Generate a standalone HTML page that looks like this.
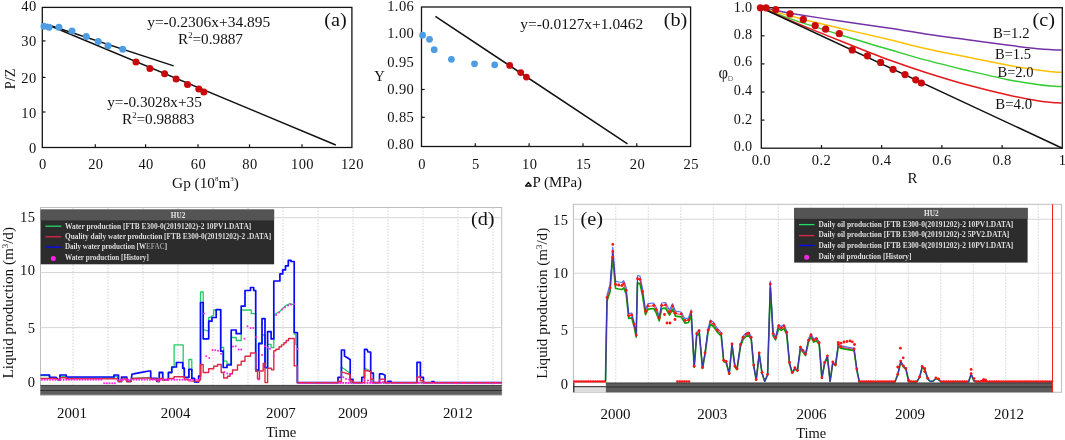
<!DOCTYPE html>
<html><head><meta charset="utf-8"><title>Figure</title>
<style>html,body{margin:0;padding:0;background:#fff;}body{width:1065px;height:440px;overflow:hidden;font-family:"Liberation Serif",serif;}</style></head>
<body>
<svg width="1065" height="440" viewBox="0 0 1065 440" style="display:block;filter:blur(0.35px);font-family:'Liberation Serif',serif">
<rect width="1065" height="440" fill="#fff"/>
<rect x="42.3" y="7.4" width="309.6" height="140.1" fill="none" stroke="#141414" stroke-width="1.3"/>
<text x="36.6" y="10.9" font-size="14.5" text-anchor="end" fill="#111" letter-spacing="0.4">40</text>
<line x1="42.3" y1="40.9" x2="45.5" y2="40.9" stroke="#141414" stroke-width="1.2"/>
<text x="36.6" y="45.5" font-size="14.5" text-anchor="end" fill="#111" letter-spacing="0.4">30</text>
<line x1="42.3" y1="77.4" x2="45.5" y2="77.4" stroke="#141414" stroke-width="1.2"/>
<text x="36.6" y="82.8" font-size="14.5" text-anchor="end" fill="#111" letter-spacing="0.4">20</text>
<line x1="42.3" y1="112.0" x2="45.5" y2="112.0" stroke="#141414" stroke-width="1.2"/>
<text x="36.6" y="118.1" font-size="14.5" text-anchor="end" fill="#111" letter-spacing="0.4">10</text>
<text x="36.6" y="152.7" font-size="14.5" text-anchor="end" fill="#111" letter-spacing="0.4">0</text>
<text x="42.8" y="169.3" font-size="14.5" text-anchor="middle" fill="#111" letter-spacing="0.4">0</text>
<line x1="95.3" y1="147.5" x2="95.3" y2="144.3" stroke="#141414" stroke-width="1.2"/>
<text x="95.8" y="169.3" font-size="14.5" text-anchor="middle" fill="#111" letter-spacing="0.4">20</text>
<line x1="145.6" y1="147.5" x2="145.6" y2="144.3" stroke="#141414" stroke-width="1.2"/>
<text x="146.1" y="169.3" font-size="14.5" text-anchor="middle" fill="#111" letter-spacing="0.4">40</text>
<line x1="198.0" y1="147.5" x2="198.0" y2="144.3" stroke="#141414" stroke-width="1.2"/>
<text x="198.5" y="169.3" font-size="14.5" text-anchor="middle" fill="#111" letter-spacing="0.4">60</text>
<line x1="249.5" y1="147.5" x2="249.5" y2="144.3" stroke="#141414" stroke-width="1.2"/>
<text x="250.0" y="169.3" font-size="14.5" text-anchor="middle" fill="#111" letter-spacing="0.4">80</text>
<line x1="302.0" y1="147.5" x2="302.0" y2="144.3" stroke="#141414" stroke-width="1.2"/>
<text x="302.5" y="169.3" font-size="14.5" text-anchor="middle" fill="#111" letter-spacing="0.4">100</text>
<text x="352.4" y="169.3" font-size="14.5" text-anchor="middle" fill="#111" letter-spacing="0.4">120</text>
<line x1="47" y1="24.5" x2="173.7" y2="65.9" stroke="#111" stroke-width="1.5"/>
<line x1="47" y1="24.5" x2="335.8" y2="145" stroke="#111" stroke-width="1.5"/>
<circle cx="44" cy="26.2" r="3.5" fill="#4E9DE2"/>
<circle cx="49.1" cy="27.2" r="3.5" fill="#4E9DE2"/>
<circle cx="58.9" cy="27.2" r="3.5" fill="#4E9DE2"/>
<circle cx="72" cy="31.1" r="3.5" fill="#4E9DE2"/>
<circle cx="86.3" cy="36.4" r="3.5" fill="#4E9DE2"/>
<circle cx="98.2" cy="41.5" r="3.5" fill="#4E9DE2"/>
<circle cx="108" cy="45.8" r="3.5" fill="#4E9DE2"/>
<circle cx="122.7" cy="49.3" r="3.5" fill="#4E9DE2"/>
<circle cx="136" cy="62.1" r="3.5" fill="#C90A0C"/>
<circle cx="149.9" cy="68.6" r="3.5" fill="#C90A0C"/>
<circle cx="164.6" cy="73.7" r="3.5" fill="#C90A0C"/>
<circle cx="176.1" cy="78.9" r="3.5" fill="#C90A0C"/>
<circle cx="187.5" cy="84.6" r="3.5" fill="#C90A0C"/>
<circle cx="198.8" cy="89.1" r="3.5" fill="#C90A0C"/>
<circle cx="203.9" cy="92.1" r="3.5" fill="#C90A0C"/>
<text x="147.2" y="27.3" font-size="15" text-anchor="start" fill="#111" textLength="123.0" lengthAdjust="spacingAndGlyphs" >y=-0.2306x+34.895</text>
<text x="178.0" y="44.0" font-size="15" text-anchor="start" fill="#111" textLength="65.0" lengthAdjust="spacingAndGlyphs" >R<tspan font-size="8.5" dy="-6">2</tspan><tspan dy="6">=0.9887</tspan></text>
<text x="107.2" y="106.6" font-size="15" text-anchor="start" fill="#111" textLength="94.6" lengthAdjust="spacingAndGlyphs" >y=-0.3028x+35</text>
<text x="122.0" y="123.8" font-size="15" text-anchor="start" fill="#111" textLength="72.5" lengthAdjust="spacingAndGlyphs" >R<tspan font-size="8.5" dy="-6">2</tspan><tspan dy="6">=0.98883</tspan></text>
<text x="324.2" y="26.0" font-size="19.5" text-anchor="start" fill="#111" textLength="22.5" lengthAdjust="spacingAndGlyphs" >(a)</text>
<text x="172.1" y="187.7" font-size="15.5" text-anchor="start" fill="#111" textLength="66.8" lengthAdjust="spacingAndGlyphs" >Gp (10<tspan font-size="7" dy="-6.5">8</tspan><tspan dy="6.5">m</tspan><tspan font-size="7" dy="-6.5">3</tspan><tspan dy="6.5">)</tspan></text>
<text transform="translate(15.3,78.9) rotate(-90)" font-size="14.5" text-anchor="middle" fill="#111" textLength="20.5" lengthAdjust="spacingAndGlyphs">P/Z</text>
<rect x="421.5" y="7.0" width="269.1" height="139.5" fill="none" stroke="#141414" stroke-width="1.3"/>
<text x="414.2" y="10.5" font-size="14.5" text-anchor="end" fill="#111" letter-spacing="0.4">1.06</text>
<text x="414.2" y="37.8" font-size="14.5" text-anchor="end" fill="#111" letter-spacing="0.4">1.00</text>
<text x="414.2" y="66.9" font-size="14.5" text-anchor="end" fill="#111" letter-spacing="0.4">0.95</text>
<text x="414.2" y="94.2" font-size="14.5" text-anchor="end" fill="#111" letter-spacing="0.4">0.90</text>
<text x="414.2" y="121.8" font-size="14.5" text-anchor="end" fill="#111" letter-spacing="0.4">0.85</text>
<text x="414.2" y="149.1" font-size="14.5" text-anchor="end" fill="#111" letter-spacing="0.4">0.80</text>
<line x1="421.5" y1="89.5" x2="424.7" y2="89.5" stroke="#141414" stroke-width="1.2"/>
<line x1="421.5" y1="117.3" x2="424.7" y2="117.3" stroke="#141414" stroke-width="1.2"/>
<text x="422.1" y="168.6" font-size="14.5" text-anchor="middle" fill="#111" letter-spacing="0.4">0</text>
<line x1="475.3" y1="146.5" x2="475.3" y2="143.3" stroke="#141414" stroke-width="1.2"/>
<text x="475.9" y="168.6" font-size="14.5" text-anchor="middle" fill="#111" letter-spacing="0.4">5</text>
<line x1="529.1" y1="146.5" x2="529.1" y2="143.3" stroke="#141414" stroke-width="1.2"/>
<text x="529.7" y="168.6" font-size="14.5" text-anchor="middle" fill="#111" letter-spacing="0.4">10</text>
<line x1="583.0" y1="146.5" x2="583.0" y2="143.3" stroke="#141414" stroke-width="1.2"/>
<text x="583.6" y="168.6" font-size="14.5" text-anchor="middle" fill="#111" letter-spacing="0.4">15</text>
<line x1="636.8" y1="146.5" x2="636.8" y2="143.3" stroke="#141414" stroke-width="1.2"/>
<text x="637.4" y="168.6" font-size="14.5" text-anchor="middle" fill="#111" letter-spacing="0.4">20</text>
<text x="691.2" y="168.6" font-size="14.5" text-anchor="middle" fill="#111" letter-spacing="0.4">25</text>
<line x1="435.4" y1="16.4" x2="627.5" y2="143.9" stroke="#111" stroke-width="1.5"/>
<circle cx="422.6" cy="35.2" r="3.4" fill="#4E9DE2"/>
<circle cx="429.5" cy="39.3" r="3.4" fill="#4E9DE2"/>
<circle cx="434.2" cy="49.7" r="3.4" fill="#4E9DE2"/>
<circle cx="451.4" cy="59.3" r="3.4" fill="#4E9DE2"/>
<circle cx="474.5" cy="63.8" r="3.4" fill="#4E9DE2"/>
<circle cx="494.7" cy="64.8" r="3.4" fill="#4E9DE2"/>
<circle cx="509.7" cy="65.4" r="3.4" fill="#C90A0C"/>
<circle cx="520.7" cy="72.6" r="3.4" fill="#C90A0C"/>
<circle cx="526.4" cy="77.1" r="3.4" fill="#C90A0C"/>
<text x="520.3" y="28.6" font-size="15" text-anchor="start" fill="#111" textLength="123.0" lengthAdjust="spacingAndGlyphs" >y=-0.0127x+1.0462</text>
<text x="663.7" y="26.0" font-size="19.5" text-anchor="start" fill="#111" textLength="23.5" lengthAdjust="spacingAndGlyphs" >(b)</text>
<text x="374.3" y="80.9" font-size="14.5" text-anchor="start" fill="#111" >Y</text>
<path d="M525.6 186 L528.4 182.4 L531.2 186 Z" fill="none" stroke="#111" stroke-width="1.4" stroke-linejoin="round"/>
<text x="532.5" y="187.0" font-size="15.5" text-anchor="start" fill="#111" textLength="49.5" lengthAdjust="spacingAndGlyphs" >P (MPa)</text>
<path d="M761.3 7.7 C766.1 8.6 776.9 11.0 790.0 13.2 C803.1 15.4 823.3 18.5 840.0 21.0 C856.7 23.5 875.8 26.1 890.0 28.2 C904.2 30.3 912.4 32.0 925.0 33.9 C937.6 35.8 952.2 37.5 965.9 39.4 C979.5 41.2 995.0 43.5 1006.9 45.0 C1018.8 46.5 1030.1 47.9 1037.6 48.7 C1045.1 49.5 1048.3 49.5 1052.0 49.7 C1055.7 49.9 1058.4 49.9 1060.0 49.9 C1061.6 49.9 1061.3 49.9 1061.6 49.9" fill="none" stroke="#7332A6" stroke-width="1.5"/>
<path d="M761.3 7.7 C766.1 9.1 776.9 12.5 790.0 15.9 C803.1 19.3 823.3 24.2 840.0 28.2 C856.7 32.2 875.8 36.4 890.0 39.8 C904.2 43.2 912.4 45.6 925.0 48.4 C937.6 51.2 952.2 54.0 965.9 56.8 C979.5 59.6 995.0 62.8 1006.9 65.0 C1018.8 67.2 1030.1 69.0 1037.6 70.1 C1045.1 71.2 1048.3 71.4 1052.0 71.8 C1055.7 72.2 1058.4 72.1 1060.0 72.2 C1061.6 72.3 1061.3 72.2 1061.6 72.2" fill="none" stroke="#FFC000" stroke-width="1.5"/>
<path d="M761.3 7.7 C766.1 9.5 776.9 14.1 790.0 18.6 C803.1 23.1 823.3 29.5 840.0 34.7 C856.7 39.9 875.8 45.5 890.0 49.7 C904.2 53.9 912.4 56.5 925.0 59.9 C937.6 63.3 952.2 66.8 965.9 70.1 C979.5 73.3 995.0 77.0 1006.9 79.4 C1018.8 81.8 1030.1 83.4 1037.6 84.5 C1045.1 85.6 1048.3 85.8 1052.0 86.1 C1055.7 86.4 1058.4 86.4 1060.0 86.5 C1061.6 86.6 1061.3 86.5 1061.6 86.5" fill="none" stroke="#33CC33" stroke-width="1.5"/>
<path d="M761.3 7.7 C766.1 9.8 776.9 14.9 790.0 20.4 C803.1 25.9 823.3 34.1 840.0 40.7 C856.7 47.4 875.8 55.0 890.0 60.3 C904.2 65.5 912.4 68.2 925.0 72.2 C937.6 76.2 952.2 80.8 965.9 84.5 C979.5 88.2 995.0 92.0 1006.9 94.7 C1018.8 97.4 1030.1 99.5 1037.6 100.8 C1045.1 102.1 1048.3 102.2 1052.0 102.5 C1055.7 102.8 1058.4 102.8 1060.0 102.9 C1061.6 103.0 1061.3 102.9 1061.6 102.9" fill="none" stroke="#E3181C" stroke-width="1.5"/>
<line x1="761.3" y1="7.7" x2="1062.3" y2="148.2" stroke="#111" stroke-width="1.5"/>
<rect x="761.3" y="7.7" width="301.0" height="140.5" fill="none" stroke="#141414" stroke-width="1.3"/>
<text x="752.4" y="11.8" font-size="14.2" text-anchor="end" fill="#111" letter-spacing="0.3">1.0</text>
<line x1="761.3" y1="35.8" x2="764.5" y2="35.8" stroke="#141414" stroke-width="1.2"/>
<text x="752.4" y="39.1" font-size="14.2" text-anchor="end" fill="#111" letter-spacing="0.3">0.8</text>
<line x1="761.3" y1="63.9" x2="764.5" y2="63.9" stroke="#141414" stroke-width="1.2"/>
<text x="752.4" y="66.4" font-size="14.2" text-anchor="end" fill="#111" letter-spacing="0.3">0.6</text>
<line x1="761.3" y1="92.0" x2="764.5" y2="92.0" stroke="#141414" stroke-width="1.2"/>
<text x="752.4" y="94.9" font-size="14.2" text-anchor="end" fill="#111" letter-spacing="0.3">0.4</text>
<line x1="761.3" y1="120.1" x2="764.5" y2="120.1" stroke="#141414" stroke-width="1.2"/>
<text x="752.4" y="124.0" font-size="14.2" text-anchor="end" fill="#111" letter-spacing="0.3">0.2</text>
<text x="752.4" y="151.3" font-size="14.2" text-anchor="end" fill="#111" letter-spacing="0.3">0.0</text>
<text x="761.3" y="164.7" font-size="14.5" text-anchor="middle" fill="#111" letter-spacing="0.4">0.0</text>
<line x1="821.5" y1="148.2" x2="821.5" y2="145.0" stroke="#141414" stroke-width="1.2"/>
<text x="821.5" y="164.7" font-size="14.5" text-anchor="middle" fill="#111" letter-spacing="0.4">0.2</text>
<line x1="881.7" y1="148.2" x2="881.7" y2="145.0" stroke="#141414" stroke-width="1.2"/>
<text x="881.7" y="164.7" font-size="14.5" text-anchor="middle" fill="#111" letter-spacing="0.4">0.4</text>
<line x1="941.9" y1="148.2" x2="941.9" y2="145.0" stroke="#141414" stroke-width="1.2"/>
<text x="941.9" y="164.7" font-size="14.5" text-anchor="middle" fill="#111" letter-spacing="0.4">0.6</text>
<line x1="1002.1" y1="148.2" x2="1002.1" y2="145.0" stroke="#141414" stroke-width="1.2"/>
<text x="1002.1" y="164.7" font-size="14.5" text-anchor="middle" fill="#111" letter-spacing="0.4">0.8</text>
<text x="1058.7" y="164.7" font-size="14.5" text-anchor="start" fill="#111" >1</text>
<circle cx="760.4" cy="7.8" r="3.6" fill="#C90A0C"/>
<circle cx="766.1" cy="7.8" r="3.6" fill="#C90A0C"/>
<circle cx="775.7" cy="9.6" r="3.6" fill="#C90A0C"/>
<circle cx="790" cy="13.9" r="3.6" fill="#C90A0C"/>
<circle cx="803.3" cy="19.4" r="3.6" fill="#C90A0C"/>
<circle cx="815.2" cy="25.6" r="3.6" fill="#C90A0C"/>
<circle cx="825.6" cy="29.2" r="3.6" fill="#C90A0C"/>
<circle cx="839.3" cy="33.7" r="3.6" fill="#C90A0C"/>
<circle cx="852.2" cy="49.9" r="3.6" fill="#C90A0C"/>
<circle cx="867.4" cy="55.8" r="3.6" fill="#C90A0C"/>
<circle cx="880.6" cy="62.4" r="3.6" fill="#C90A0C"/>
<circle cx="893" cy="69.3" r="3.6" fill="#C90A0C"/>
<circle cx="905" cy="74.6" r="3.6" fill="#C90A0C"/>
<circle cx="915.7" cy="79.8" r="3.6" fill="#C90A0C"/>
<circle cx="921.4" cy="83" r="3.6" fill="#C90A0C"/>
<text x="993.0" y="38.4" font-size="15.5" text-anchor="start" fill="#111" textLength="36.5" lengthAdjust="spacingAndGlyphs" >B=1.2</text>
<text x="995.0" y="58.9" font-size="15.5" text-anchor="start" fill="#111" textLength="36.0" lengthAdjust="spacingAndGlyphs" >B=1.5</text>
<text x="997.5" y="77.3" font-size="15.5" text-anchor="start" fill="#111" textLength="36.0" lengthAdjust="spacingAndGlyphs" >B=2.0</text>
<text x="995.3" y="108.8" font-size="15.5" text-anchor="start" fill="#111" textLength="36.8" lengthAdjust="spacingAndGlyphs" >B=4.0</text>
<text x="1032.6" y="26.0" font-size="19.5" text-anchor="start" fill="#111" textLength="22.5" lengthAdjust="spacingAndGlyphs" >(c)</text>
<text x="907.5" y="182.5" font-size="15" text-anchor="start" fill="#111" textLength="10.0" lengthAdjust="spacingAndGlyphs" >R</text>
<text x="718.6" y="77.8" font-size="16.5" text-anchor="start" fill="#111" >φ</text>
<text x="727.8" y="80.6" font-size="8" fill="#6f6f6f" style="font-family:'Liberation Sans',sans-serif">D</text>
<rect x="40.5" y="207.5" width="461.2" height="187.5" fill="#fff" stroke="#bdbdbd" stroke-width="1"/>
<line x1="73" y1="207.5" x2="73" y2="385" stroke="#d2d2d2" stroke-width="1" stroke-dasharray="1.5 1.5"/>
<line x1="108" y1="207.5" x2="108" y2="385" stroke="#d2d2d2" stroke-width="1" stroke-dasharray="1.5 1.5"/>
<line x1="143" y1="207.5" x2="143" y2="385" stroke="#d2d2d2" stroke-width="1" stroke-dasharray="1.5 1.5"/>
<line x1="178" y1="207.5" x2="178" y2="385" stroke="#d2d2d2" stroke-width="1" stroke-dasharray="1.5 1.5"/>
<line x1="213" y1="207.5" x2="213" y2="385" stroke="#d2d2d2" stroke-width="1" stroke-dasharray="1.5 1.5"/>
<line x1="248" y1="207.5" x2="248" y2="385" stroke="#d2d2d2" stroke-width="1" stroke-dasharray="1.5 1.5"/>
<line x1="283" y1="207.5" x2="283" y2="385" stroke="#d2d2d2" stroke-width="1" stroke-dasharray="1.5 1.5"/>
<line x1="318" y1="207.5" x2="318" y2="385" stroke="#d2d2d2" stroke-width="1" stroke-dasharray="1.5 1.5"/>
<line x1="353" y1="207.5" x2="353" y2="385" stroke="#d2d2d2" stroke-width="1" stroke-dasharray="1.5 1.5"/>
<line x1="388" y1="207.5" x2="388" y2="385" stroke="#d2d2d2" stroke-width="1" stroke-dasharray="1.5 1.5"/>
<line x1="423" y1="207.5" x2="423" y2="385" stroke="#d2d2d2" stroke-width="1" stroke-dasharray="1.5 1.5"/>
<line x1="458" y1="207.5" x2="458" y2="385" stroke="#d2d2d2" stroke-width="1" stroke-dasharray="1.5 1.5"/>
<line x1="493" y1="207.5" x2="493" y2="385" stroke="#d2d2d2" stroke-width="1" stroke-dasharray="1.5 1.5"/>
<line x1="40.5" y1="217.7" x2="501.7" y2="217.7" stroke="#d6d6d6" stroke-width="1"/>
<line x1="40.5" y1="272.5" x2="501.7" y2="272.5" stroke="#d6d6d6" stroke-width="1"/>
<line x1="40.5" y1="327.6" x2="501.7" y2="327.6" stroke="#d6d6d6" stroke-width="1"/>
<polyline points="40.5,375.5 49.5,375.5 49.5,377.8 56.0,377.8 58.3,380.0 60.0,380.0 60.0,376.5 66.3,376.5 66.3,378.0 114.0,378.0 114.0,376.5 117.2,376.5 118.5,381.7 121.5,381.7 121.5,378.0 126.8,378.0 126.8,381.5 131.0,381.5 132.0,378.5 150.7,377.5 150.7,379.0 157.0,379.0 157.0,381.5 159.3,381.5 159.3,373.0 162.7,373.0 162.7,380.0 168.4,380.0 168.4,373.0 171.8,373.0 171.8,367.5 174.1,367.5 174.1,344.8 183.2,344.8 183.2,369.0 184.3,369.0 184.3,377.6 188.9,377.6 188.9,359.5 191.8,359.5 191.8,378.7 194.5,378.7 194.5,382.0 198.6,382.0 198.6,376.5 200.5,376.5 200.5,292.0 203.2,292.0 203.2,329.5 208.7,331.2 208.7,317.5 210.0,317.5 213.7,315.0 213.7,310.0 220.7,310.0 220.7,347.5 223.7,347.5 223.7,361.2 227.0,361.2 227.0,364.0 231.2,364.0 231.2,337.5 236.2,337.5 236.2,340.5 241.2,340.5 241.2,310.0 251.2,310.0 251.2,313.7 255.7,313.7 255.7,371.0 258.7,371.0 258.7,343.0 262.0,343.0 262.0,335.0 265.0,335.0 265.0,368.0 267.6,368.0 267.6,344.4 271.1,344.4 271.1,347.5 273.8,347.5 273.8,315.0 280.0,311.2 285.0,306.2 290.0,303.7 294.2,305.0 294.2,334.0 295.8,334.0 295.8,344.4 297.4,344.4 297.4,382.6 341.4,382.6 341.4,367.0 350.2,373.2 350.2,382.6 364.5,382.6 364.5,368.4 370.7,371.0 370.7,382.6 501.7,382.6" fill="none" stroke="#22CC66" stroke-width="1.3" stroke-linejoin="round" />
<polyline points="40.5,375.0 49.5,375.0 49.5,377.3 56.0,377.3 58.3,379.7 60.0,379.7 60.0,375.0 66.3,375.0 66.3,377.0 114.0,377.0 114.0,375.0 117.2,375.0 118.5,375.0 118.5,381.5 121.5,381.5 121.5,377.0 126.8,377.0 126.8,381.3 131.0,381.3 132.0,374.0 133.6,373.8 140.0,372.7 149.0,371.0 150.7,371.0 150.7,378.4 157.0,378.4 157.0,381.4 159.3,381.4 159.3,372.3 162.7,372.3 162.7,379.5 168.4,379.5 168.4,372.3 171.8,372.3 171.8,367.0 176.4,367.0 176.4,362.5 182.7,362.5 182.7,368.2 184.3,368.2 184.3,377.3 188.9,377.3 188.9,369.3 191.8,369.3 191.8,378.4 194.5,378.4 194.5,381.8 198.6,381.8 198.6,376.0 200.5,376.0 200.5,302.5 203.2,302.5 203.2,338.8 208.7,338.8 208.7,321.2 212.0,321.2 212.0,317.5 216.2,317.5 216.2,309.5 220.7,309.5 220.7,351.2 223.2,351.2 223.2,367.5 227.0,367.5 227.0,365.0 231.2,365.0 231.2,330.0 236.2,330.0 236.2,333.7 241.2,333.7 241.2,306.2 245.0,306.2 245.0,290.5 250.5,290.5 250.5,287.5 253.7,287.5 253.7,290.5 255.7,290.5 255.7,370.0 258.7,370.0 258.7,343.7 262.0,343.7 262.0,318.7 265.0,318.7 265.0,367.5 267.6,367.5 267.6,331.7 271.1,331.7 271.1,338.9 273.8,338.9 273.8,281.0 279.9,281.0 279.9,273.9 282.7,273.9 282.7,269.9 285.5,269.9 285.5,265.9 288.3,265.9 288.3,260.3 291.0,260.3 291.0,261.5 294.2,261.5 294.2,332.5 297.4,332.5 297.4,382.6 338.0,382.6 338.0,377.3 341.4,377.3 341.4,350.0 344.5,350.0 344.5,356.1 350.2,359.5 350.2,379.3 353.0,379.3 353.0,382.6 361.8,382.6 361.8,377.3 364.5,377.3 364.5,349.3 367.0,349.3 368.0,352.0 370.7,352.0 370.7,373.2 373.4,373.2 373.4,382.6 379.5,382.6 379.5,373.8 382.0,373.8 385.0,375.2 385.0,382.6 388.0,382.6 388.0,381.3 391.1,381.3 391.1,382.6 417.0,382.6 417.0,362.3 420.4,362.3 420.4,377.3 423.4,377.3 423.4,382.6 432.0,382.6 432.0,381.5 434.0,381.5 434.0,382.6 501.7,382.6" fill="none" stroke="#0808FF" stroke-width="1.7" stroke-linejoin="round" />
<g fill="#FF22E6"><circle cx="300.0" cy="382.9" r="1.1"/><circle cx="302.7" cy="382.9" r="1.1"/><circle cx="305.4" cy="382.9" r="1.1"/><circle cx="308.1" cy="382.9" r="1.1"/><circle cx="310.8" cy="382.9" r="1.1"/><circle cx="313.5" cy="382.9" r="1.1"/><circle cx="316.2" cy="382.9" r="1.1"/><circle cx="318.9" cy="382.9" r="1.1"/><circle cx="321.6" cy="382.9" r="1.1"/><circle cx="324.3" cy="382.9" r="1.1"/><circle cx="327.0" cy="382.9" r="1.1"/><circle cx="329.7" cy="382.9" r="1.1"/><circle cx="332.4" cy="382.9" r="1.1"/><circle cx="335.1" cy="382.9" r="1.1"/><circle cx="337.8" cy="382.9" r="1.1"/><circle cx="340.5" cy="382.9" r="1.1"/><circle cx="343.2" cy="382.9" r="1.1"/><circle cx="345.9" cy="382.9" r="1.1"/><circle cx="348.6" cy="382.9" r="1.1"/><circle cx="351.3" cy="382.9" r="1.1"/><circle cx="354.0" cy="382.9" r="1.1"/><circle cx="356.7" cy="382.9" r="1.1"/><circle cx="359.4" cy="382.9" r="1.1"/><circle cx="362.1" cy="382.9" r="1.1"/><circle cx="364.8" cy="382.9" r="1.1"/><circle cx="367.5" cy="382.9" r="1.1"/><circle cx="370.2" cy="382.9" r="1.1"/><circle cx="372.9" cy="382.9" r="1.1"/><circle cx="375.6" cy="382.9" r="1.1"/><circle cx="378.3" cy="382.9" r="1.1"/><circle cx="381.0" cy="382.9" r="1.1"/><circle cx="383.7" cy="382.9" r="1.1"/><circle cx="386.4" cy="382.9" r="1.1"/><circle cx="389.1" cy="382.9" r="1.1"/><circle cx="391.8" cy="382.9" r="1.1"/><circle cx="394.5" cy="382.9" r="1.1"/><circle cx="397.2" cy="382.9" r="1.1"/><circle cx="399.9" cy="382.9" r="1.1"/><circle cx="402.6" cy="382.9" r="1.1"/><circle cx="405.3" cy="382.9" r="1.1"/><circle cx="408.0" cy="382.9" r="1.1"/><circle cx="410.7" cy="382.9" r="1.1"/><circle cx="413.4" cy="382.9" r="1.1"/><circle cx="416.1" cy="382.9" r="1.1"/><circle cx="418.8" cy="382.9" r="1.1"/><circle cx="421.5" cy="382.9" r="1.1"/><circle cx="424.2" cy="382.9" r="1.1"/><circle cx="426.9" cy="382.9" r="1.1"/><circle cx="429.6" cy="382.9" r="1.1"/><circle cx="432.3" cy="382.9" r="1.1"/><circle cx="435.0" cy="382.9" r="1.1"/><circle cx="437.7" cy="382.9" r="1.1"/><circle cx="440.4" cy="382.9" r="1.1"/><circle cx="443.1" cy="382.9" r="1.1"/><circle cx="445.8" cy="382.9" r="1.1"/><circle cx="448.5" cy="382.9" r="1.1"/><circle cx="451.2" cy="382.9" r="1.1"/><circle cx="453.9" cy="382.9" r="1.1"/><circle cx="456.6" cy="382.9" r="1.1"/><circle cx="459.3" cy="382.9" r="1.1"/><circle cx="462.0" cy="382.9" r="1.1"/><circle cx="464.7" cy="382.9" r="1.1"/><circle cx="467.4" cy="382.9" r="1.1"/><circle cx="470.1" cy="382.9" r="1.1"/><circle cx="472.8" cy="382.9" r="1.1"/><circle cx="475.5" cy="382.9" r="1.1"/><circle cx="478.2" cy="382.9" r="1.1"/><circle cx="480.9" cy="382.9" r="1.1"/><circle cx="483.6" cy="382.9" r="1.1"/><circle cx="486.3" cy="382.9" r="1.1"/><circle cx="489.0" cy="382.9" r="1.1"/><circle cx="491.7" cy="382.9" r="1.1"/><circle cx="494.4" cy="382.9" r="1.1"/><circle cx="497.1" cy="382.9" r="1.1"/><circle cx="499.8" cy="382.9" r="1.1"/></g>
<polyline points="40.5,378.5 56.0,378.5 58.3,380.0 60.0,380.0 60.0,377.8 66.3,377.8 66.3,378.7 117.2,378.7 118.5,381.5 121.5,381.5 121.5,379.0 126.8,379.0 126.8,381.5 131.0,381.5 132.0,378.5 150.7,377.9 150.7,379.0 157.0,379.0 157.0,381.3 159.3,381.3 159.3,378.5 162.7,378.5 162.7,380.0 168.4,380.0 168.4,378.5 174.0,378.5 174.0,376.8 184.3,376.8 184.3,379.5 188.9,379.5 188.9,380.9 198.6,381.4 198.6,380.0 200.5,380.0 200.5,364.5 203.2,364.5 203.2,372.5 208.7,372.5 208.7,368.7 213.7,368.7 213.7,366.2 217.5,366.2 217.5,364.5 221.2,364.5 221.2,372.5 223.7,372.5 223.7,378.0 227.5,378.0 227.5,376.2 230.0,376.2 230.0,373.7 232.5,373.7 232.5,370.0 237.5,370.0 237.5,365.0 241.2,365.0 241.2,361.2 245.0,361.2 245.0,356.2 250.5,356.2 250.5,353.0 255.7,353.0 255.7,371.2 257.5,371.2 257.5,378.7 259.5,378.7 259.5,371.0 263.2,371.0 263.2,363.5 265.0,363.5 265.0,382.6 267.6,382.6 267.6,368.3 271.5,368.3 271.5,369.9 273.8,369.9 273.8,350.8 275.9,350.8 275.9,349.2 279.1,349.2 279.1,346.8 281.5,346.8 281.5,344.9 283.9,344.9 283.9,342.8 286.2,342.8 286.2,340.5 288.6,340.5 288.6,338.5 294.2,338.5 294.2,365.9 297.4,365.9 297.4,382.6 338.0,382.6 338.0,381.3 341.4,381.3 341.4,371.8 350.2,374.5 350.2,381.0 353.0,381.0 353.0,382.6 364.5,382.6 364.5,370.2 370.7,371.5 370.7,379.3 373.4,379.3 373.4,382.6 379.5,382.6 379.5,379.3 385.0,379.3 385.0,382.6 417.0,382.6 417.0,377.0 420.4,377.0 420.4,380.7 423.4,380.7 423.4,382.6 501.7,382.6" fill="none" stroke="#E0284A" stroke-width="1.4" stroke-linejoin="round" />
<g fill="#FF22E6"><circle cx="42.0" cy="379.8" r="1"/><circle cx="44.7" cy="379.8" r="1"/><circle cx="47.4" cy="379.8" r="1"/><circle cx="50.1" cy="379.8" r="1"/><circle cx="52.8" cy="379.8" r="1"/><circle cx="55.5" cy="379.8" r="1"/><circle cx="58.2" cy="379.8" r="1"/><circle cx="60.9" cy="379.8" r="1"/><circle cx="63.6" cy="379.8" r="1"/><circle cx="66.3" cy="379.8" r="1"/><circle cx="69.0" cy="379.8" r="1"/><circle cx="71.7" cy="379.8" r="1"/><circle cx="74.4" cy="379.8" r="1"/><circle cx="77.1" cy="379.8" r="1"/><circle cx="79.8" cy="379.8" r="1"/><circle cx="82.5" cy="379.8" r="1"/><circle cx="85.2" cy="379.8" r="1"/><circle cx="87.9" cy="379.8" r="1"/><circle cx="90.6" cy="379.8" r="1"/><circle cx="93.3" cy="379.8" r="1"/><circle cx="96.0" cy="379.8" r="1"/><circle cx="98.7" cy="379.8" r="1"/><circle cx="101.4" cy="379.8" r="1"/><circle cx="104.1" cy="383.2" r="1"/><circle cx="106.8" cy="383.2" r="1"/><circle cx="109.5" cy="383.2" r="1"/><circle cx="112.2" cy="383.2" r="1"/><circle cx="114.9" cy="383.2" r="1"/><circle cx="117.6" cy="379.8" r="1"/><circle cx="120.3" cy="379.8" r="1"/><circle cx="123.0" cy="379.8" r="1"/><circle cx="125.7" cy="379.8" r="1"/><circle cx="128.4" cy="379.8" r="1"/><circle cx="131.1" cy="379.8" r="1"/><circle cx="133.8" cy="379.8" r="1"/><circle cx="136.5" cy="379.8" r="1"/><circle cx="139.2" cy="379.8" r="1"/><circle cx="141.9" cy="379.8" r="1"/><circle cx="144.6" cy="379.8" r="1"/><circle cx="147.3" cy="379.8" r="1"/><circle cx="150.0" cy="379.8" r="1"/><circle cx="152.7" cy="379.8" r="1"/><circle cx="155.4" cy="379.8" r="1"/><circle cx="158.1" cy="379.8" r="1"/><circle cx="160.8" cy="379.8" r="1"/><circle cx="163.5" cy="379.8" r="1"/><circle cx="166.2" cy="379.8" r="1"/><circle cx="168.9" cy="379.8" r="1"/><circle cx="171.6" cy="379.8" r="1"/><circle cx="174.3" cy="379.8" r="1"/><circle cx="177.0" cy="379.8" r="1"/><circle cx="179.7" cy="379.8" r="1"/><circle cx="182.4" cy="379.8" r="1"/><circle cx="185.1" cy="379.8" r="1"/><circle cx="187.8" cy="379.8" r="1"/><circle cx="190.5" cy="379.8" r="1"/><circle cx="193.2" cy="379.8" r="1"/><circle cx="195.9" cy="379.8" r="1"/><circle cx="198.6" cy="379.8" r="1"/><circle cx="204.0" cy="313.4" r="1"/><circle cx="206.2" cy="356.2" r="1"/><circle cx="209.2" cy="358.0" r="1"/><circle cx="212.5" cy="350.0" r="1"/><circle cx="215.2" cy="350.3" r="1"/><circle cx="218.0" cy="350.8" r="1"/><circle cx="221.2" cy="353.7" r="1"/><circle cx="224.5" cy="372.0" r="1"/><circle cx="227.3" cy="373.5" r="1"/><circle cx="230.0" cy="374.5" r="1"/><circle cx="233.0" cy="346.5" r="1"/><circle cx="235.7" cy="346.2" r="1"/><circle cx="238.7" cy="349.5" r="1"/><circle cx="241.2" cy="349.5" r="1"/><circle cx="244.5" cy="338.7" r="1"/><circle cx="247.5" cy="326.2" r="1"/><circle cx="250.5" cy="328.0" r="1"/><circle cx="253.2" cy="328.0" r="1"/><circle cx="256.2" cy="337.0" r="1"/><circle cx="258.7" cy="379.5" r="1"/><circle cx="262.0" cy="355.0" r="1"/><circle cx="265.0" cy="346.2" r="1"/><circle cx="267.5" cy="347.5" r="1"/><circle cx="270.0" cy="348.7" r="1"/><circle cx="273.7" cy="356.2" r="1"/><circle cx="276.2" cy="315.0" r="1"/><circle cx="279.0" cy="312.5" r="1"/><circle cx="282.0" cy="309.5" r="1"/><circle cx="285.0" cy="307.5" r="1"/><circle cx="288.0" cy="305.5" r="1"/><circle cx="291.0" cy="304.5" r="1"/><circle cx="294.0" cy="304.2" r="1"/><circle cx="297.5" cy="349.0" r="1"/><circle cx="343.4" cy="377.3" r="1"/><circle cx="346.0" cy="379.0" r="1"/><circle cx="349.0" cy="379.5" r="1"/><circle cx="364.5" cy="380.0" r="1"/><circle cx="368.0" cy="380.5" r="1"/><circle cx="371.0" cy="381.0" r="1"/><circle cx="383.0" cy="382.0" r="1"/></g>
<rect x="40.5" y="385" width="461.2" height="10" fill="#5f5f5f"/>
<line x1="40.5" y1="385.4" x2="501.7" y2="385.4" stroke="#454545" stroke-width="1"/>
<line x1="40.5" y1="390.5" x2="501.7" y2="390.5" stroke="#2e2e2e" stroke-width="1.1"/>
<line x1="40.5" y1="394.8" x2="501.7" y2="394.8" stroke="#8a8a8a" stroke-width="0.8"/>
<rect x="40.7" y="209.6" width="233.4" height="54.7" fill="#2c2c2c"/>
<rect x="40.7" y="209.6" width="233.4" height="10.8" fill="#545454"/>
<text x="178" y="217.8" font-size="7.5" text-anchor="middle" fill="#e8e8e8" font-weight="bold" textLength="14.5" lengthAdjust="spacingAndGlyphs">HU2</text>
<line x1="45.4" y1="226.2" x2="61.3" y2="226.2" stroke="#22DD66" stroke-width="1.3"/>
<text x="65" y="228.6" font-size="8.6" fill="#dedede" font-weight="bold" textLength="186.2" lengthAdjust="spacingAndGlyphs">Water production [FTB E300-0(20191202)-2 10PV1.DATA]</text>
<line x1="45.4" y1="236.8" x2="61.3" y2="236.8" stroke="#E0284A" stroke-width="1.3"/>
<text x="65" y="238.6" font-size="8.6" fill="#dedede" font-weight="bold" textLength="206.1" lengthAdjust="spacingAndGlyphs">Quality daily water production [FTB E300-0(20191202)-2 .DATA]</text>
<line x1="45.4" y1="247.1" x2="61.3" y2="247.1" stroke="#0808FF" stroke-width="1.3"/>
<text x="65" y="249.4" font-size="8.6" fill="#dedede" font-weight="bold" textLength="102.0" lengthAdjust="spacingAndGlyphs">Daily water production [W<tspan fill="#999">EFAC</tspan>]</text>
<circle cx="53.3" cy="258.6" r="2.5" fill="#FF22E6"/>
<text x="65" y="260.3" font-size="8.6" fill="#dedede" font-weight="bold" textLength="83.8" lengthAdjust="spacingAndGlyphs">Water production [History]</text>
<text x="470.9" y="225.0" font-size="19.5" text-anchor="start" fill="#111" textLength="23.6" lengthAdjust="spacingAndGlyphs" >(d)</text>
<text x="35.4" y="222.3" font-size="14.5" text-anchor="end" fill="#111" letter-spacing="0.4">15</text>
<text x="35.4" y="274.8" font-size="14.5" text-anchor="end" fill="#111" letter-spacing="0.4">10</text>
<text x="35.4" y="332.5" font-size="14.5" text-anchor="end" fill="#111" letter-spacing="0.4">5</text>
<text x="35.4" y="386.5" font-size="14.5" text-anchor="end" fill="#111" letter-spacing="0.4">0</text>
<text x="57.1" y="418.2" font-size="14.5" text-anchor="start" fill="#111" textLength="29.8" lengthAdjust="spacingAndGlyphs" >2001</text>
<text x="160.7" y="418.2" font-size="14.5" text-anchor="start" fill="#111" textLength="29.8" lengthAdjust="spacingAndGlyphs" >2004</text>
<text x="266.0" y="418.2" font-size="14.5" text-anchor="start" fill="#111" textLength="29.8" lengthAdjust="spacingAndGlyphs" >2007</text>
<text x="337.9" y="418.2" font-size="14.5" text-anchor="start" fill="#111" textLength="29.8" lengthAdjust="spacingAndGlyphs" >2009</text>
<text x="442.9" y="418.2" font-size="14.5" text-anchor="start" fill="#111" textLength="29.8" lengthAdjust="spacingAndGlyphs" >2012</text>
<text x="265.9" y="437.0" font-size="15" text-anchor="start" fill="#111" textLength="30.5" lengthAdjust="spacingAndGlyphs" >Time</text>
<text transform="translate(13.3,302.8) rotate(-90)" font-size="14.5" text-anchor="middle" fill="#111" textLength="151.5" lengthAdjust="spacingAndGlyphs">Liquid production (m<tspan font-size="8.5" dy="-5.5">3</tspan><tspan dy="5.5">/d)</tspan></text>
<rect x="573.4" y="204.3" width="488.2" height="188.0" fill="#fff" stroke="#bdbdbd" stroke-width="1"/>
<line x1="615.8" y1="204.3" x2="615.8" y2="382.5" stroke="#d2d2d2" stroke-width="1" stroke-dasharray="1.5 1.5"/>
<line x1="648.3" y1="204.3" x2="648.3" y2="382.5" stroke="#d2d2d2" stroke-width="1" stroke-dasharray="1.5 1.5"/>
<line x1="680.8" y1="204.3" x2="680.8" y2="382.5" stroke="#d2d2d2" stroke-width="1" stroke-dasharray="1.5 1.5"/>
<line x1="713.3" y1="204.3" x2="713.3" y2="382.5" stroke="#d2d2d2" stroke-width="1" stroke-dasharray="1.5 1.5"/>
<line x1="745.8" y1="204.3" x2="745.8" y2="382.5" stroke="#d2d2d2" stroke-width="1" stroke-dasharray="1.5 1.5"/>
<line x1="778.3" y1="204.3" x2="778.3" y2="382.5" stroke="#d2d2d2" stroke-width="1" stroke-dasharray="1.5 1.5"/>
<line x1="810.8" y1="204.3" x2="810.8" y2="382.5" stroke="#d2d2d2" stroke-width="1" stroke-dasharray="1.5 1.5"/>
<line x1="843.3" y1="204.3" x2="843.3" y2="382.5" stroke="#d2d2d2" stroke-width="1" stroke-dasharray="1.5 1.5"/>
<line x1="875.8" y1="204.3" x2="875.8" y2="382.5" stroke="#d2d2d2" stroke-width="1" stroke-dasharray="1.5 1.5"/>
<line x1="908.3" y1="204.3" x2="908.3" y2="382.5" stroke="#d2d2d2" stroke-width="1" stroke-dasharray="1.5 1.5"/>
<line x1="940.8" y1="204.3" x2="940.8" y2="382.5" stroke="#d2d2d2" stroke-width="1" stroke-dasharray="1.5 1.5"/>
<line x1="973.3" y1="204.3" x2="973.3" y2="382.5" stroke="#d2d2d2" stroke-width="1" stroke-dasharray="1.5 1.5"/>
<line x1="1005.8" y1="204.3" x2="1005.8" y2="382.5" stroke="#d2d2d2" stroke-width="1" stroke-dasharray="1.5 1.5"/>
<line x1="1038.3" y1="204.3" x2="1038.3" y2="382.5" stroke="#d2d2d2" stroke-width="1" stroke-dasharray="1.5 1.5"/>
<line x1="573.4" y1="219.2" x2="1061.6" y2="219.2" stroke="#d6d6d6" stroke-width="1"/>
<line x1="573.4" y1="273.2" x2="1061.6" y2="273.2" stroke="#d6d6d6" stroke-width="1"/>
<line x1="573.4" y1="327.5" x2="1061.6" y2="327.5" stroke="#d6d6d6" stroke-width="1"/>
<polyline points="573.4,381.8 605.5,381.8 607.0,301.1 610.0,291.8 612.8,256.6 615.5,288.2 618.7,289.0 622.0,289.5 623.7,287.8 626.2,294.1 628.7,318.5 631.7,317.8 634.2,326.7 636.2,337.1 637.5,282.9 640.0,283.6 642.5,295.2 645.5,314.6 648.0,309.2 653.7,308.5 656.2,312.7 659.2,320.8 661.7,308.5 665.5,308.1 669.5,315.0 672.5,309.2 675.5,316.1 681.2,316.9 685.0,323.1 688.5,322.5 691.2,315.0 694.2,367.3 696.7,336.0 699.2,333.2 702.5,368.5 705.0,354.6 708.0,332.4 710.5,324.3 713.7,326.7 717.5,332.4 721.2,336.0 723.7,361.5 726.2,362.6 729.2,374.3 732.0,345.7 735.0,367.3 737.0,369.6 740.5,346.4 743.0,339.4 746.2,336.4 748.7,335.5 751.2,339.4 753.7,366.2 756.2,380.1 759.2,354.6 762.0,373.2 764.7,381.3 767.6,375.0 770.3,288.1 773.1,335.9 775.5,339.9 778.6,328.5 781.3,330.4 784.0,328.6 786.7,334.5 789.5,363.7 792.2,373.2 794.9,368.7 797.4,371.2 800.4,348.9 803.1,352.2 805.5,355.5 808.5,342.1 811.0,337.0 813.7,342.1 816.4,340.8 819.2,344.6 821.9,378.4 824.6,363.7 827.4,357.2 830.1,381.4 832.8,363.1 835.5,365.6 838.3,346.4 841.0,348.4 854.1,350.6 856.8,370.0 859.3,381.8 895.0,381.8 897.7,375.0 900.7,362.4 903.4,366.8 905.9,369.3 908.6,380.8 911.0,381.8 916.8,381.8 919.5,377.6 922.2,367.5 924.7,369.3 927.7,378.8 930.4,381.5 933.2,381.1 935.9,378.5 938.6,379.5 941.1,381.8 968.6,381.8 971.1,374.4 974.1,381.1 980.0,381.8 983.6,380.1 987.0,381.8 1052.5,381.8" fill="none" stroke="#0AA00A" stroke-width="1.7" stroke-linejoin="round" />
<polyline points="573.4,381.8 605.5,381.8 607.0,298.0 610.0,288.4 612.8,251.9 615.5,284.7 618.7,285.5 622.0,286.0 623.7,284.2 626.2,290.8 628.7,316.1 631.7,315.4 634.2,324.6 636.2,335.4 637.5,279.2 640.0,279.9 642.5,292.0 645.5,312.0 648.0,306.4 653.7,305.8 656.2,310.1 659.2,318.5 661.7,305.8 665.5,305.3 669.5,312.5 672.5,306.4 675.5,313.7 681.2,314.4 685.0,320.9 688.5,320.2 691.2,312.5 694.2,366.7 696.7,334.2 699.2,331.3 702.5,368.0 705.0,353.5 708.0,330.6 710.5,322.2 713.7,324.6 717.5,330.6 721.2,334.2 723.7,360.8 726.2,361.9 729.2,374.0 732.0,344.4 735.0,366.7 737.0,369.2 740.5,345.0 743.0,337.8 746.2,334.7 748.7,333.7 751.2,337.8 753.7,365.6 756.2,380.1 759.2,353.5 762.0,372.8 764.7,381.3 767.6,374.8 770.3,284.5 773.1,334.1 775.5,338.3 778.6,326.5 781.3,328.4 784.0,326.6 786.7,332.7 789.5,363.0 792.2,372.9 794.9,368.2 797.4,370.8 800.4,347.6 803.1,351.1 805.5,354.5 808.5,340.6 811.0,335.3 813.7,340.6 816.4,339.2 819.2,343.2 821.9,378.2 824.6,363.0 827.4,356.3 830.1,381.4 832.8,362.4 835.5,365.0 838.3,345.0 841.0,347.2 854.1,349.5 856.8,369.5 859.3,381.8 895.0,381.8 897.7,374.8 900.7,361.6 903.4,366.3 905.9,368.9 908.6,380.7 911.0,381.8 916.8,381.8 919.5,377.5 922.2,366.9 924.7,368.9 927.7,378.7 930.4,381.5 933.2,381.0 935.9,378.4 938.6,379.4 941.1,381.8 968.6,381.8 971.1,374.1 974.1,381.0 980.0,381.8 983.6,380.1 987.0,381.8 1052.5,381.8" fill="none" stroke="#CC2A2A" stroke-width="0.9" stroke-linejoin="round" />
<polyline points="573.4,381.8 605.5,381.8 607.0,295.0 610.0,285.0 612.8,247.2 615.5,281.2 618.7,282.0 622.0,282.5 623.7,280.7 626.2,287.5 628.7,313.7 631.7,313.0 634.2,322.5 636.2,333.7 637.5,275.5 640.0,276.2 642.5,288.7 645.5,309.5 648.0,303.7 653.7,303.0 656.2,307.5 659.2,316.2 661.7,303.0 665.5,302.5 669.5,310.0 672.5,303.7 675.5,311.2 681.2,312.0 685.0,318.7 688.5,318.0 691.2,310.0 694.2,366.2 696.7,332.5 699.2,329.5 702.5,367.5 705.0,352.5 708.0,328.7 710.5,320.0 713.7,322.5 717.5,328.7 721.2,332.5 723.7,360.0 726.2,361.2 729.2,373.7 732.0,343.0 735.0,366.2 737.0,368.7 740.5,343.7 743.0,336.2 746.2,333.0 748.7,332.0 751.2,336.2 753.7,365.0 756.2,380.0 759.2,352.5 762.0,372.5 764.7,381.3 767.6,374.5 770.3,281.0 773.1,332.4 775.5,336.7 778.6,324.5 781.3,326.5 784.0,324.6 786.7,330.9 789.5,362.3 792.2,372.6 794.9,367.7 797.4,370.4 800.4,346.4 803.1,350.0 805.5,353.5 808.5,339.1 811.0,333.6 813.7,339.1 816.4,337.7 819.2,341.8 821.9,378.1 824.6,362.3 827.4,355.4 830.1,381.4 832.8,361.7 835.5,364.4 838.3,343.7 841.0,345.9 854.1,348.3 856.8,369.1 859.3,381.8 895.0,381.8 897.7,374.5 900.7,360.9 903.4,365.7 905.9,368.4 908.6,380.7 911.0,381.8 916.8,381.8 919.5,377.3 922.2,366.4 924.7,368.4 927.7,378.6 930.4,381.5 933.2,381.0 935.9,378.3 938.6,379.3 941.1,381.8 968.6,381.8 971.1,373.8 974.1,381.0 980.0,381.8 983.6,380.0 987.0,381.8 1052.5,381.8" fill="none" stroke="#1030F0" stroke-width="1.2" stroke-linejoin="round" stroke-opacity="0.7"/>
<g fill="#FF1212"><circle cx="607.0" cy="297.5" r="1.4"/><circle cx="610.0" cy="287.9" r="1.4"/><circle cx="612.8" cy="251.4" r="1.4"/><circle cx="615.5" cy="284.2" r="1.4"/><circle cx="618.7" cy="285.0" r="1.4"/><circle cx="622.0" cy="285.5" r="1.4"/><circle cx="623.7" cy="283.7" r="1.4"/><circle cx="626.2" cy="290.3" r="1.4"/><circle cx="628.7" cy="315.6" r="1.4"/><circle cx="631.7" cy="314.9" r="1.4"/><circle cx="634.2" cy="324.1" r="1.4"/><circle cx="636.2" cy="334.9" r="1.4"/><circle cx="637.5" cy="278.7" r="1.4"/><circle cx="640.0" cy="279.4" r="1.4"/><circle cx="642.5" cy="291.5" r="1.4"/><circle cx="645.5" cy="311.5" r="1.4"/><circle cx="648.0" cy="305.9" r="1.4"/><circle cx="653.7" cy="305.3" r="1.4"/><circle cx="656.2" cy="309.6" r="1.4"/><circle cx="659.2" cy="318.0" r="1.4"/><circle cx="661.7" cy="305.3" r="1.4"/><circle cx="665.5" cy="304.8" r="1.4"/><circle cx="669.5" cy="312.0" r="1.4"/><circle cx="672.5" cy="305.9" r="1.4"/><circle cx="675.5" cy="313.2" r="1.4"/><circle cx="681.2" cy="313.9" r="1.4"/><circle cx="685.0" cy="320.4" r="1.4"/><circle cx="688.5" cy="319.7" r="1.4"/><circle cx="691.2" cy="312.0" r="1.4"/><circle cx="694.2" cy="366.2" r="1.4"/><circle cx="696.7" cy="333.7" r="1.4"/><circle cx="699.2" cy="330.8" r="1.4"/><circle cx="702.5" cy="367.5" r="1.4"/><circle cx="705.0" cy="353.0" r="1.4"/><circle cx="708.0" cy="330.1" r="1.4"/><circle cx="710.5" cy="321.7" r="1.4"/><circle cx="713.7" cy="324.1" r="1.4"/><circle cx="717.5" cy="330.1" r="1.4"/><circle cx="721.2" cy="333.7" r="1.4"/><circle cx="723.7" cy="360.3" r="1.4"/><circle cx="726.2" cy="361.4" r="1.4"/><circle cx="729.2" cy="373.5" r="1.4"/><circle cx="732.0" cy="343.9" r="1.4"/><circle cx="735.0" cy="366.2" r="1.4"/><circle cx="737.0" cy="368.7" r="1.4"/><circle cx="740.5" cy="344.5" r="1.4"/><circle cx="743.0" cy="337.3" r="1.4"/><circle cx="746.2" cy="334.2" r="1.4"/><circle cx="748.7" cy="333.2" r="1.4"/><circle cx="751.2" cy="337.3" r="1.4"/><circle cx="753.7" cy="365.1" r="1.4"/><circle cx="756.2" cy="379.6" r="1.4"/><circle cx="759.2" cy="353.0" r="1.4"/><circle cx="762.0" cy="372.3" r="1.4"/><circle cx="767.6" cy="374.3" r="1.4"/><circle cx="770.3" cy="284.0" r="1.4"/><circle cx="773.1" cy="333.6" r="1.4"/><circle cx="775.5" cy="337.8" r="1.4"/><circle cx="778.6" cy="326.0" r="1.4"/><circle cx="781.3" cy="327.9" r="1.4"/><circle cx="784.0" cy="326.1" r="1.4"/><circle cx="786.7" cy="332.2" r="1.4"/><circle cx="789.5" cy="362.5" r="1.4"/><circle cx="792.2" cy="372.4" r="1.4"/><circle cx="794.9" cy="367.7" r="1.4"/><circle cx="797.4" cy="370.3" r="1.4"/><circle cx="800.4" cy="347.1" r="1.4"/><circle cx="803.1" cy="350.6" r="1.4"/><circle cx="805.5" cy="354.0" r="1.4"/><circle cx="808.5" cy="340.1" r="1.4"/><circle cx="811.0" cy="334.8" r="1.4"/><circle cx="813.7" cy="340.1" r="1.4"/><circle cx="816.4" cy="338.7" r="1.4"/><circle cx="819.2" cy="342.7" r="1.4"/><circle cx="821.9" cy="377.7" r="1.4"/><circle cx="824.6" cy="362.5" r="1.4"/><circle cx="827.4" cy="355.8" r="1.4"/><circle cx="832.8" cy="361.9" r="1.4"/><circle cx="835.5" cy="364.5" r="1.4"/><circle cx="838.3" cy="344.5" r="1.4"/><circle cx="841.0" cy="346.7" r="1.4"/><circle cx="854.1" cy="349.0" r="1.4"/><circle cx="856.8" cy="369.0" r="1.4"/><circle cx="897.7" cy="374.3" r="1.4"/><circle cx="900.7" cy="361.1" r="1.4"/><circle cx="903.4" cy="365.8" r="1.4"/><circle cx="905.9" cy="368.4" r="1.4"/><circle cx="908.6" cy="380.2" r="1.4"/><circle cx="919.5" cy="377.0" r="1.4"/><circle cx="922.2" cy="366.4" r="1.4"/><circle cx="924.7" cy="368.4" r="1.4"/><circle cx="927.7" cy="378.2" r="1.4"/><circle cx="935.9" cy="377.9" r="1.4"/><circle cx="938.6" cy="378.9" r="1.4"/><circle cx="971.1" cy="373.6" r="1.4"/><circle cx="983.6" cy="379.6" r="1.4"/><circle cx="612.8" cy="244.4" r="1.4"/><circle cx="612.8" cy="257.2" r="1.4"/><circle cx="667.0" cy="323.0" r="1.4"/><circle cx="670.0" cy="323.0" r="1.4"/><circle cx="664.5" cy="314.5" r="1.4"/><circle cx="675.0" cy="319.5" r="1.4"/><circle cx="838.3" cy="342.4" r="1.4"/><circle cx="841.0" cy="343.2" r="1.4"/><circle cx="844.0" cy="342.0" r="1.4"/><circle cx="847.0" cy="341.5" r="1.4"/><circle cx="850.0" cy="341.0" r="1.4"/><circle cx="852.3" cy="341.8" r="1.4"/><circle cx="854.5" cy="344.5" r="1.4"/><circle cx="900.4" cy="348.2" r="1.4"/><circle cx="903.2" cy="357.8" r="1.4"/><circle cx="897.7" cy="367.0" r="1.4"/><circle cx="924.7" cy="371.5" r="1.4"/><circle cx="971.1" cy="369.4" r="1.4"/><circle cx="974.0" cy="378.6" r="1.4"/><circle cx="983.6" cy="380.0" r="1.4"/><circle cx="985.6" cy="380.0" r="1.4"/><circle cx="574.5" cy="381.6" r="1.4"/><circle cx="576.8" cy="381.6" r="1.4"/><circle cx="579.1" cy="381.6" r="1.4"/><circle cx="581.4" cy="381.6" r="1.4"/><circle cx="583.7" cy="381.6" r="1.4"/><circle cx="586.0" cy="381.6" r="1.4"/><circle cx="588.3" cy="381.6" r="1.4"/><circle cx="590.6" cy="381.6" r="1.4"/><circle cx="592.9" cy="381.6" r="1.4"/><circle cx="595.2" cy="381.6" r="1.4"/><circle cx="597.5" cy="381.6" r="1.4"/><circle cx="599.8" cy="381.6" r="1.4"/><circle cx="602.1" cy="381.6" r="1.4"/><circle cx="604.4" cy="381.6" r="1.4"/><circle cx="677.4" cy="381.6" r="1.4"/><circle cx="679.7" cy="381.6" r="1.4"/><circle cx="682.0" cy="381.6" r="1.4"/><circle cx="684.3" cy="381.6" r="1.4"/><circle cx="686.6" cy="381.6" r="1.4"/><circle cx="688.9" cy="381.6" r="1.4"/><circle cx="859.5" cy="381.6" r="1.4"/><circle cx="861.8" cy="381.6" r="1.4"/><circle cx="864.1" cy="381.6" r="1.4"/><circle cx="866.4" cy="381.6" r="1.4"/><circle cx="868.7" cy="381.6" r="1.4"/><circle cx="871.0" cy="381.6" r="1.4"/><circle cx="873.3" cy="381.6" r="1.4"/><circle cx="875.6" cy="381.6" r="1.4"/><circle cx="877.9" cy="381.6" r="1.4"/><circle cx="880.2" cy="381.6" r="1.4"/><circle cx="882.5" cy="381.6" r="1.4"/><circle cx="884.8" cy="381.6" r="1.4"/><circle cx="887.1" cy="381.6" r="1.4"/><circle cx="889.4" cy="381.6" r="1.4"/><circle cx="891.7" cy="381.6" r="1.4"/><circle cx="894.0" cy="381.6" r="1.4"/><circle cx="909.0" cy="381.6" r="1.4"/><circle cx="911.3" cy="381.6" r="1.4"/><circle cx="913.6" cy="381.6" r="1.4"/><circle cx="915.9" cy="381.6" r="1.4"/><circle cx="941.5" cy="381.6" r="1.4"/><circle cx="943.8" cy="381.6" r="1.4"/><circle cx="946.1" cy="381.6" r="1.4"/><circle cx="948.4" cy="381.6" r="1.4"/><circle cx="950.7" cy="381.6" r="1.4"/><circle cx="953.0" cy="381.6" r="1.4"/><circle cx="955.3" cy="381.6" r="1.4"/><circle cx="957.6" cy="381.6" r="1.4"/><circle cx="959.9" cy="381.6" r="1.4"/><circle cx="962.2" cy="381.6" r="1.4"/><circle cx="964.5" cy="381.6" r="1.4"/><circle cx="966.8" cy="381.6" r="1.4"/><circle cx="976.0" cy="381.6" r="1.4"/><circle cx="978.3" cy="381.6" r="1.4"/><circle cx="980.6" cy="381.6" r="1.4"/><circle cx="982.9" cy="381.6" r="1.4"/><circle cx="985.2" cy="381.6" r="1.4"/><circle cx="987.5" cy="381.6" r="1.4"/><circle cx="989.8" cy="381.6" r="1.4"/><circle cx="992.1" cy="381.6" r="1.4"/><circle cx="994.4" cy="381.6" r="1.4"/><circle cx="996.7" cy="381.6" r="1.4"/><circle cx="999.0" cy="381.6" r="1.4"/><circle cx="1001.3" cy="381.6" r="1.4"/><circle cx="1003.6" cy="381.6" r="1.4"/><circle cx="1005.9" cy="381.6" r="1.4"/><circle cx="1008.2" cy="381.6" r="1.4"/><circle cx="1010.5" cy="381.6" r="1.4"/><circle cx="1012.8" cy="381.6" r="1.4"/><circle cx="1015.1" cy="381.6" r="1.4"/><circle cx="1017.4" cy="381.6" r="1.4"/><circle cx="1019.7" cy="381.6" r="1.4"/><circle cx="1022.0" cy="381.6" r="1.4"/><circle cx="1024.3" cy="381.6" r="1.4"/><circle cx="1026.6" cy="381.6" r="1.4"/><circle cx="1028.9" cy="381.6" r="1.4"/><circle cx="1031.2" cy="381.6" r="1.4"/><circle cx="1033.5" cy="381.6" r="1.4"/><circle cx="1035.8" cy="381.6" r="1.4"/><circle cx="1038.1" cy="381.6" r="1.4"/><circle cx="1040.4" cy="381.6" r="1.4"/><circle cx="1042.7" cy="381.6" r="1.4"/><circle cx="1045.0" cy="381.6" r="1.4"/><circle cx="1047.3" cy="381.6" r="1.4"/><circle cx="1049.6" cy="381.6" r="1.4"/><circle cx="1051.9" cy="381.6" r="1.4"/></g>
<rect x="573.4" y="382.7" width="32.5" height="4" fill="#fafafa"/>
<rect x="573.4" y="386.7" width="32.5" height="5.6" fill="#dedede"/>
<line x1="573.4" y1="386.7" x2="605.9" y2="386.7" stroke="#222" stroke-width="1"/>
<line x1="573.8" y1="382.7" x2="573.8" y2="392.3" stroke="#222" stroke-width="1.2"/>
<rect x="605.9" y="382.7" width="446.6" height="9.6" fill="#5c5c5c"/>
<line x1="605.9" y1="383.1" x2="1052.5" y2="383.1" stroke="#444" stroke-width="1"/>
<line x1="605.9" y1="387" x2="1052.5" y2="387" stroke="#2e2e2e" stroke-width="1.1"/>
<line x1="1052.5" y1="204.3" x2="1052.5" y2="392.3" stroke="#F02020" stroke-width="1"/>
<rect x="794.2" y="207.9" width="233.4" height="54.7" fill="#2c2c2c"/>
<rect x="794.2" y="207.9" width="233.4" height="10.9" fill="#545454"/>
<text x="931.3" y="216.1" font-size="7.5" text-anchor="middle" fill="#e8e8e8" font-weight="bold" textLength="14.5" lengthAdjust="spacingAndGlyphs">HU2</text>
<line x1="799" y1="224.6" x2="814.4" y2="224.6" stroke="#22DD66" stroke-width="1.3"/>
<text x="818.4" y="227.0" font-size="8.6" fill="#dedede" font-weight="bold" textLength="194.9" lengthAdjust="spacingAndGlyphs">Daily oil production [FTB E300-0(20191202)-2 10PV1.DATA]</text>
<line x1="799" y1="235.6" x2="814.4" y2="235.6" stroke="#E0284A" stroke-width="1.3"/>
<text x="818.4" y="237.0" font-size="8.6" fill="#dedede" font-weight="bold" textLength="190.9" lengthAdjust="spacingAndGlyphs">Daily oil production [FTB E300-0(20191202)-2 5PV2.DATA]</text>
<line x1="799" y1="245.5" x2="814.4" y2="245.5" stroke="#0808FF" stroke-width="1.3"/>
<text x="818.4" y="247.8" font-size="8.6" fill="#dedede" font-weight="bold" textLength="194.9" lengthAdjust="spacingAndGlyphs">Daily oil production [FTB E300-0(20191202)-2 10PV1.DATA]</text>
<circle cx="806.7" cy="257.2" r="2.5" fill="#FF22E6"/>
<text x="818.4" y="258.9" font-size="8.6" fill="#dedede" font-weight="bold" textLength="93.1" lengthAdjust="spacingAndGlyphs">Daily oil production [History]</text>
<text x="580.6" y="224.8" font-size="19.5" text-anchor="start" fill="#111" textLength="22.5" lengthAdjust="spacingAndGlyphs" >(e)</text>
<text x="568.4" y="225.0" font-size="14.5" text-anchor="end" fill="#111" letter-spacing="0.4">15</text>
<text x="568.4" y="278.0" font-size="14.5" text-anchor="end" fill="#111" letter-spacing="0.4">10</text>
<text x="568.4" y="334.6" font-size="14.5" text-anchor="end" fill="#111" letter-spacing="0.4">5</text>
<text x="568.4" y="388.6" font-size="14.5" text-anchor="end" fill="#111" letter-spacing="0.4">0</text>
<text x="600.5" y="419.3" font-size="14.5" text-anchor="start" fill="#111" textLength="30.0" lengthAdjust="spacingAndGlyphs" >2000</text>
<text x="697.2" y="419.3" font-size="14.5" text-anchor="start" fill="#111" textLength="30.0" lengthAdjust="spacingAndGlyphs" >2003</text>
<text x="796.4" y="419.3" font-size="14.5" text-anchor="start" fill="#111" textLength="30.0" lengthAdjust="spacingAndGlyphs" >2006</text>
<text x="895.0" y="419.3" font-size="14.5" text-anchor="start" fill="#111" textLength="30.0" lengthAdjust="spacingAndGlyphs" >2009</text>
<text x="993.9" y="419.3" font-size="14.5" text-anchor="start" fill="#111" textLength="30.0" lengthAdjust="spacingAndGlyphs" >2012</text>
<text x="796.2" y="437.6" font-size="15" text-anchor="start" fill="#111" textLength="30.0" lengthAdjust="spacingAndGlyphs" >Time</text>
<text transform="translate(547.3,303.3) rotate(-90)" font-size="14.5" text-anchor="middle" fill="#111" textLength="151" lengthAdjust="spacingAndGlyphs">Liquid production (m<tspan font-size="8.5" dy="-5.5">3</tspan><tspan dy="5.5">/d)</tspan></text>
</svg>
</body></html>
